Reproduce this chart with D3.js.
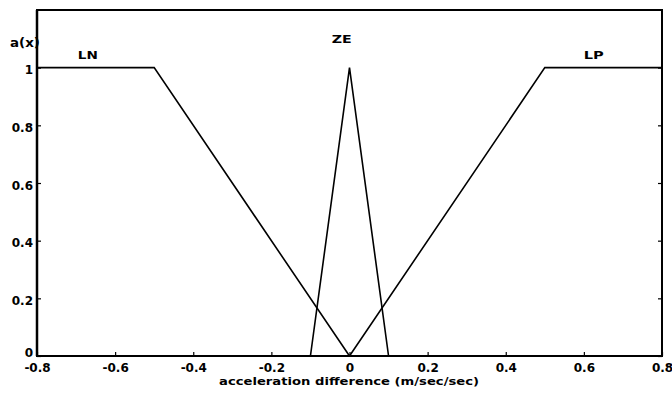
<!DOCTYPE html>
<html><head><meta charset="utf-8">
<script src="https://cdn.jsdelivr.net/npm/d3@7"></script>
<style>body{margin:0;background:#fff}svg text{font-family:"DejaVu Sans",sans-serif;font-weight:bold;fill:#000}</style>
</head><body><svg id="c" width="672" height="393"></svg>
<script>
const xTicks = [-0.8,-0.6,-0.4,-0.2,0,0.2,0.4,0.6,0.8];
const yTicks = [0,0.2,0.4,0.6,0.8,1];
const lnX = [-0.8,-0.5,0];      const lnY = [1,1,0];
const zeX = [-0.1,0,0.1];       const zeY = [0,1,0];
const lpX = [0,0.5,0.8];        const lpY = [0,1,1];
const setNames = ["LN","ZE","LP"];
const setLabelX = [-0.67,-0.02,0.625];
const setLabelY = [1.03,1.085,1.03];

const svg = d3.select("#c");
const L=37,R=662,T=10,B=356;
const x = d3.scaleLinear().domain([-0.8,0.8]).range([L,R]);
const y = d3.scaleLinear().domain([0,1.2]).range([B,T]);
const FS = "12px";
const fmt = d => d===0 ? "0" : (d===1 ? "1" : (d<0?"-":"") + Math.abs(d).toFixed(1));

svg.append("rect").attr("x",L).attr("y",T).attr("width",R-L).attr("height",B-T)
  .attr("fill","none").attr("stroke","#000").attr("stroke-width",2);

const bx = svg.append("g").attr("transform",`translate(0,${B})`)
  .call(d3.axisBottom(x).tickValues(xTicks).tickFormat(fmt).tickSizeInner(-4).tickSizeOuter(0));
const ly = svg.append("g").attr("transform",`translate(${L},0)`)
  .call(d3.axisLeft(y).tickValues(yTicks).tickFormat(fmt).tickSizeInner(-4).tickSizeOuter(0).tickPadding(4));
const ry = svg.append("g").attr("transform",`translate(${R},0)`)
  .call(d3.axisRight(y).tickValues(yTicks).tickFormat("").tickSizeInner(-4).tickSizeOuter(0));
[bx,ly,ry].forEach(g=>{g.select(".domain").remove();g.selectAll("line").attr("stroke","#000").attr("stroke-width",1.2);
  g.selectAll("text").style("font-size",FS).style("font-family","'DejaVu Sans',sans-serif").style("font-weight","bold").attr("fill","#000");});
bx.selectAll("text").attr("y",16).attr("dy",0);
ly.selectAll("text").attr("dy","0.5em");
ly.selectAll("text").filter(d=>d===0).attr("dy","0.05em");

const line = d3.line().x(d=>x(d[0])).y(d=>y(d[1]));
[[lnX,lnY],[zeX,zeY],[lpX,lpY]].forEach(([xs,ys])=>{
  svg.append("path").attr("d",line(xs.map((v,i)=>[v,ys[i]])))
    .attr("fill","none").attr("stroke","#000").attr("stroke-width",1.6).attr("stroke-linejoin","miter");
});

setNames.forEach((n,i)=>{
  svg.append("text").attr("x",x(setLabelX[i])).attr("y",y(setLabelY[i])).attr("text-anchor","middle")
    .style("font-size","11px").attr("textLength",20).attr("lengthAdjust","spacingAndGlyphs").text(n);
});
svg.append("text").attr("x",10).attr("y",47).style("font-size","11.5px")
  .attr("textLength",30).attr("lengthAdjust","spacingAndGlyphs").text("a(x)");
svg.append("line").attr("x1",L).attr("x2",L).attr("y1",T).attr("y2",B).attr("stroke","#000").attr("stroke-width",2.5);
svg.append("text").attr("x",349).attr("y",385).attr("text-anchor","middle").style("font-size","11px")
  .attr("textLength",260).attr("lengthAdjust","spacingAndGlyphs")
  .text("acceleration difference (m/sec/sec)");
</script></body></html>
